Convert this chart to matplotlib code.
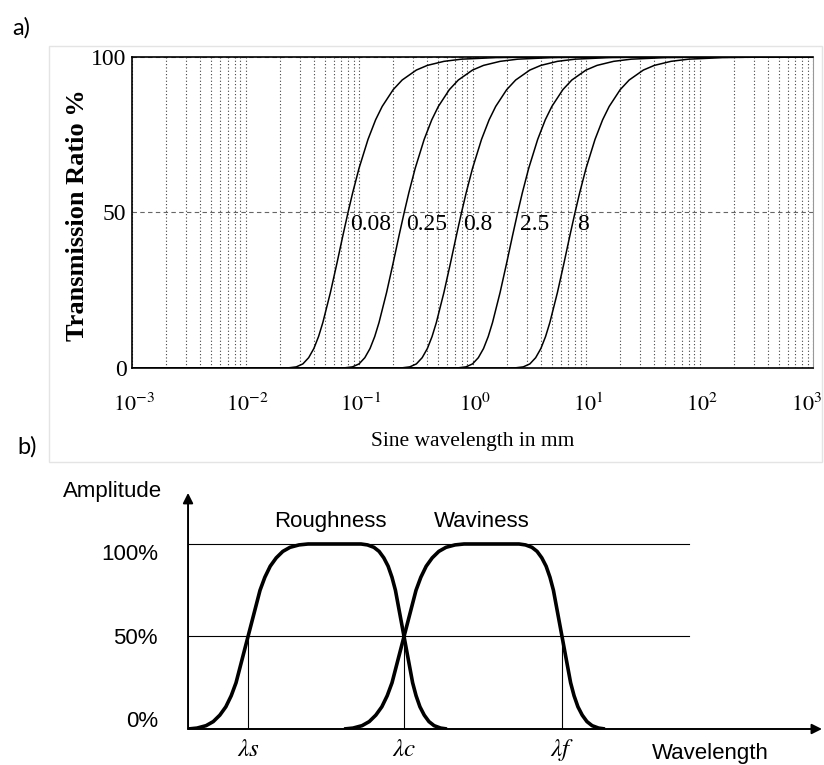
import matplotlib
matplotlib.use('Agg')
import matplotlib.pyplot as plt
from matplotlib.patches import Rectangle
from matplotlib.ticker import NullFormatter, LogLocator
import numpy as np

# a) Gaussian filter transmission curves
cutoffs = [0.08, 0.25, 0.8, 2.5, 8]
cutoff_labels = ['0.08', '0.25', '0.8', '2.5', '8']
# one curve, wavelength as multiple of the cutoff
ratio = [1e-5, 0.25, 0.3, 0.35, 0.4, 0.45, 0.5, 0.55, 0.6, 0.7, 0.8, 0.9, 1.0,
         1.1, 1.25, 1.5, 1.75, 2, 2.5, 3, 4, 5, 7, 10, 20, 50, 1e5]
transmission = [0, 0, 0.05, 0.35, 1.3, 3.3, 6.25, 10.1, 14.6, 24.3, 33.8, 42.5, 50,
                56.4, 64.2, 73.5, 79.8, 84.1, 89.5, 92.6, 95.8, 97.3, 98.6, 99.3, 99.8, 100, 100]
decades = [1e-3, 1e-2, 1e-1, 1e0, 1e1, 1e2, 1e3]
decade_labels = ['$10^{-3}$', '$10^{-2}$', '$10^{-1}$', '$10^{0}$', '$10^{1}$', '$10^{2}$', '$10^{3}$']
ratio_ticks = [0, 50, 100]

# b) roughness / waviness sketch
edge_u = [-1, -0.85, -0.7, -0.58, -0.47, -0.37, -0.28, -0.2, -0.1, 0,
          0.1, 0.2, 0.28, 0.37, 0.47, 0.58, 0.7, 0.85, 1]
edge_amp = [0, 0.5, 1.8, 4, 7.5, 12, 18, 25, 37.5, 50,
            62.5, 75, 82, 88, 92.5, 96, 98.2, 99.5, 100]
rise_width = 6.0
fall_width = 4.3
cut_names = [r'$\lambda s$', r'$\lambda c$', r'$\lambda f$']
cut_pos = [6.0, 21.6, 37.4]
amp_levels = [0, 50, 100]
amp_labels = ['0%', '50%', '100%']

plt.rcParams['font.family'] = ['Liberation Serif', 'DejaVu Serif']
plt.rcParams['mathtext.fontset'] = 'stix'

fig = plt.figure(figsize=(8.24, 7.65), dpi=100)

# faint border of the scanned figure
fig.patches.append(Rectangle((0.0595, 0.396), 0.938, 0.5438, transform=fig.transFigure,
                             fill=False, edgecolor='#e4e4e4', lw=1))

ax = fig.add_axes([0.1602, 0.5190, 0.8265, 0.4065])
for c in cutoffs:
    ax.plot(np.array(ratio) * c, transmission, color='black', lw=1.1)
ax.set_xscale('log')
ax.set_xlim(1e-3, 1e3)
ax.set_ylim(0, 100)
ax.set_xticks(decades)
ax.set_xticklabels([])
ax.xaxis.set_minor_locator(LogLocator(base=10, subs=range(2, 10), numticks=20))
ax.xaxis.set_minor_formatter(NullFormatter())
ax.set_yticks(ratio_ticks)
ax.set_yticklabels([str(v) for v in ratio_ticks], fontsize=17)
ax.tick_params(which='both', length=0)
ax.tick_params(axis='y', pad=4)
ax.xaxis.grid(True, which='both', ls=(0, (1, 2)), color='#444444', lw=0.8)
ax.yaxis.grid(True, ls=(0, (4, 3)), color='#666666', lw=0.8)
for s in ax.spines.values():
    s.set_linewidth(1.2)
ax.spines['right'].set_color('#999999')
ax.spines['right'].set_linewidth(0.8)

# decade labels drawn by hand so the last one stays inside the figure
for i, (d, lab) in enumerate(zip(decades, decade_labels)):
    last = i == len(decades) - 1
    ax.annotate(lab, xy=(d, 0), xycoords=('data', 'axes fraction'),
                xytext=(9 if last else 2, -37), textcoords='offset pixels',
                ha='right' if last else 'center', va='center', fontsize=16)

for c, lab in zip(cutoffs, cutoff_labels):
    ax.text(c * 1.04, 49.5, lab, ha='left', va='top', fontsize=17)

ax.text(-0.08, 0.49, 'Transmission Ratio %', rotation=90, ha='center', va='center',
        fontsize=19, fontweight='bold', transform=ax.transAxes)
ax.text(0.5, -0.235, 'Sine wavelength in mm', ha='center', va='center',
        fontsize=15.5, transform=ax.transAxes)

fig.text(0.0146, 0.963, 'a)', family='Lato', fontsize=17, ha='left', va='center')
fig.text(0.021, 0.4157, 'b)', family='Lato', fontsize=17, ha='left', va='center')

bx = fig.add_axes([0.2282, 0.04706, 0.7718, 0.3144])
bx.set_xlim(0, 63.6)
bx.set_ylim(0, 130)
bx.axis('off')

u = np.array(edge_u)
amp = np.array(edge_amp)
rough_x = np.concatenate([cut_pos[0] + u * rise_width, cut_pos[1] + u * fall_width])
rough_y = np.concatenate([amp, 100 - amp])
wavy_x = np.concatenate([cut_pos[1] + u * rise_width, cut_pos[2] + u * fall_width])
wavy_y = np.concatenate([amp, 100 - amp])

bx.plot([0, 50.1], [100, 100], color='black', lw=0.8)
bx.plot([0, 50.1], [50, 50], color='black', lw=0.8)
for p in cut_pos:
    bx.plot([p, p], [0, 50], color='black', lw=0.8)
bx.plot(rough_x, rough_y, color='black', lw=2.6, solid_capstyle='butt')
bx.plot(wavy_x, wavy_y, color='black', lw=2.6, solid_capstyle='butt')

arrow = dict(arrowstyle='-|>', color='black', lw=1.4, mutation_scale=15, shrinkA=0, shrinkB=0)
bx.annotate('', xy=(63.4, 0), xytext=(0, 0), arrowprops=arrow, annotation_clip=False)
bx.annotate('', xy=(0, 127.6), xytext=(0, 0), arrowprops=arrow, annotation_clip=False)

sans = 'Liberation Sans'
bx.text(-7.55, 128.1, 'Amplitude', family=sans, fontsize=16, ha='center', va='center')
for lev, lab, off in zip(amp_levels, amp_labels, [4, -1, -5.5]):
    bx.text(-3.0, lev + off, lab, family=sans, fontsize=16, ha='right', va='center')
bx.text(14.2, 112, 'Roughness', family=sans, fontsize=16, ha='center', va='center')
bx.text(29.4, 112, 'Waviness', family=sans, fontsize=16, ha='center', va='center')
for p, name in zip(cut_pos, cut_names):
    bx.text(p, -11.4, name, fontsize=18, ha='center', va='center')
bx.text(52.2, -13, 'Wavelength', family=sans, fontsize=16, ha='center', va='center')

fig.savefig('out.png', dpi=100)
